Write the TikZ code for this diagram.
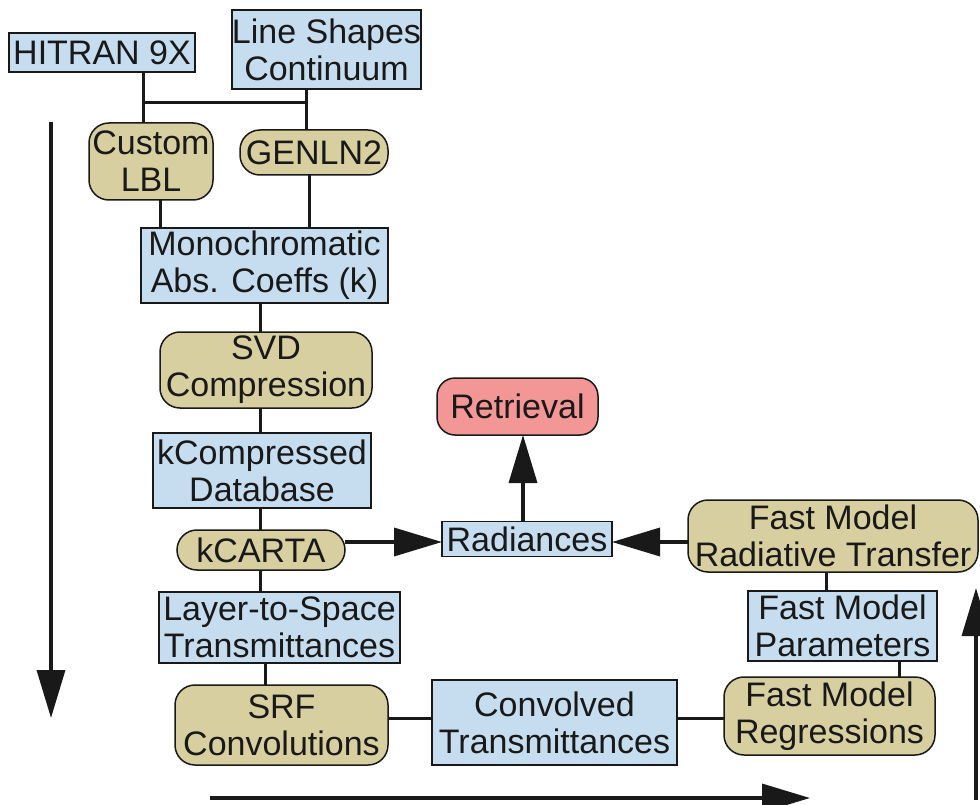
\documentclass[tikz,border=0pt]{standalone}
\usepackage{fontspec}
\setmainfont{Liberation Sans}
\usetikzlibrary{arrows.meta}
\definecolor{boxblue}{RGB}{198,221,239}
\definecolor{boxtan}{RGB}{216,207,160}
\definecolor{boxpink}{RGB}{243,150,150}
\definecolor{ink}{RGB}{25,25,25}

\begin{document}
\begin{tikzpicture}[x=1pt,y=-1pt,
  every node/.style={font=\fontsize{34}{37}\selectfont, align=center,
    inner sep=0pt, outer sep=0pt, text=ink},
  data/.style={draw=ink, line width=1.5pt, fill=boxblue, rectangle},
  proc/.style={draw=ink, line width=1.5pt, fill=boxtan, rectangle, rounded corners=20pt},
  goal/.style={draw=ink, line width=1.5pt, fill=boxpink, rectangle, rounded corners=18pt},
  link/.style={draw=ink, line width=3pt},
  flow/.style={draw=ink, line width=3.5pt, -{Triangle[length=48pt,width=28pt]}}]

\useasboundingbox[fill=white] (0,0) rectangle (980,805);

% line-by-line spectroscopy chain
\node[data, minimum width=186pt, minimum height=39pt] (hitran) at (102,52.5) {HITRAN 9X};
\node[data, minimum width=161pt, minimum height=79pt] (lineshapes) at (326.5,49.5) {Line Shapes\\Continuum};
\node[proc, minimum width=124pt, minimum height=77pt] (custom) at (151,161.5) {Custom\\LBL};
\node[proc, minimum width=148pt, minimum height=45pt] (genln2) at (314,152.5) {GENLN2};
\node[data, minimum width=247pt, minimum height=75pt] (mono) at (264.5,265.5) {Monochromatic\\Abs. Coeffs (k)};
\node[proc, minimum width=212pt, minimum height=76pt] (svd) at (266,370) {SVD\\Compression};
\node[data, minimum width=218pt, minimum height=75pt] (kcomp) at (262,470.5) {kCompressed\\Database};
\node[proc, minimum width=168pt, minimum height=40pt] (kcarta) at (261,550) {kCARTA};
\node[data, minimum width=241pt, minimum height=71pt] (layer) at (279.5,627.5) {Layer-to-Space\\Transmittances};
\node[proc, minimum width=213pt, minimum height=80pt] (srf) at (281.5,725) {SRF\\Convolutions};

% fast model chain
\node[data, minimum width=245pt, minimum height=85pt] (conv) at (554.5,722.5) {Convolved\\Transmittances};
\node[proc, minimum width=211pt, minimum height=78pt] (regress) at (829.5,716) {Fast Model\\Regressions};
\node[data, minimum width=189pt, minimum height=70pt] (params) at (842.5,626) {Fast Model\\Parameters};
\node[proc, minimum width=290pt, minimum height=72pt] (fmrt) at (833,536) {Fast Model\\Radiative Transfer};

% outputs
\node[data, minimum width=170pt, minimum height=35pt] (radiances) at (527,539) {Radiances};
\node[goal, minimum width=161pt, minimum height=57pt] (retrieval) at (517.5,406.5) {Retrieval};

% junction below the input databases
\coordinate (j1) at (143,103);
\coordinate (j2) at (306,103);
\draw[link] (hitran.south -| j1) -- (custom.north -| j1);
\draw[link] (j1) -- (j2);
\draw[link] (lineshapes.south -| j2) -- (genln2.north -| j2);

% plain connectors
\coordinate (c1) at (160,0);
\coordinate (c2) at (309,0);
\coordinate (c3) at (260,0);
\coordinate (c4) at (265,0);
\coordinate (c5) at (899,0);
\coordinate (c6) at (826,0);
\draw[link] (custom.south -| c1) -- (mono.north -| c1);
\draw[link] (genln2.south -| c2) -- (mono.north -| c2);
\draw[link] (mono.south -| c3) -- (svd.north -| c3);
\draw[link] (svd.south -| c3) -- (kcomp.north -| c3);
\draw[link] (kcomp.south -| c3) -- (kcarta.north -| c3);
\draw[link] (kcarta.south -| c3) -- (layer.north -| c3);
\draw[link] (layer.south -| c4) -- (srf.north -| c4);
\coordinate (r1) at (0,718);
\draw[link] (srf.east |- r1) -- (conv.west |- r1);
\draw[link] (conv.east |- r1) -- (regress.west |- r1);
\draw[link] (regress.north -| c5) -- (params.south -| c5);
\draw[link] (params.north -| c6) -- (fmrt.south -| c6);

% arrows into radiances and retrieval
\coordinate (r2) at (0,542);
\draw[flow] (kcarta.east |- r2) -- (radiances.west |- r2);
\draw[flow] (fmrt.west |- r2) -- (radiances.east |- r2);
\coordinate (c7) at (523,0);
\draw[flow] (radiances.north -| c7) -- (retrieval.south -| c7);

% overall direction arrows
\coordinate (a1) at (51,122);
\coordinate (a2) at (51,718);
\coordinate (b1) at (210,798);
\coordinate (b2) at (810,798);
\coordinate (d1) at (976,800);
\coordinate (d2) at (976,588);
\draw[flow] (a1) -- (a2);
\draw[flow] (b1) -- (b2);
\draw[flow] (d1) -- (d2);
\end{tikzpicture}
\end{document}
